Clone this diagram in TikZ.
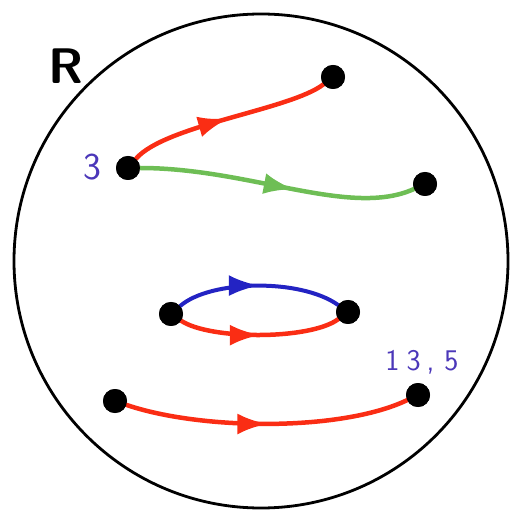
\documentclass[tikz,border=0pt]{standalone}
\usepackage{fontspec}
\usetikzlibrary{arrows.meta,decorations.markings}
\definecolor{cred}{RGB}{250,45,20}
\definecolor{cgreen}{RGB}{110,190,85}
\definecolor{cblue}{RGB}{35,35,195}
\definecolor{clab}{RGB}{75,55,185}
\tikzset{
  dot/.style={circle,fill=black,inner sep=0pt,minimum size=24pt},
  curve/.style={line width=4.5pt,line cap=round,postaction={decorate},
    decoration={markings,mark=at position #1 with {\arrow{Latex[length=30pt,width=21pt]}}}},
  curve/.default=0.5,
  lab/.style={text=clab,font=\sffamily\fontsize{38}{38}\selectfont}
}
\begin{document}
\begin{tikzpicture}[x=1pt,y=-1pt]
\useasboundingbox (0,0) rectangle (511,510);
\node[draw,circle,line width=2.8pt,minimum size=494pt,inner sep=0pt] (R) at (261,261) {};
\node[font=\sffamily\bfseries\fontsize{50}{50}\selectfont] (Rl) at (66,66) {R};
\node[dot] (a) at (128,168) {};
\node[dot] (b) at (333,77) {};
\node[dot] (c) at (425,184) {};
\node[dot] (d) at (171,314) {};
\node[dot] (e) at (348,312) {};
\node[dot] (f) at (115,401) {};
\node[dot] (g) at (418,395) {};
\node[lab] (l3) at (92,167) {3};
\node[lab,font=\sffamily\fontsize{30}{30}\selectfont] (l13) at (422,362) {1\kern7pt3\kern6pt,\kern10pt5};
\draw[cred,curve] (a) .. controls (165,125) and (290,110) .. (b);
\draw[cgreen,curve=0.56] (a) .. controls (250,168) and (350,218) .. (c);
\draw[cblue,curve=0.5,line width=4pt] (d) .. controls (210,280) and (300,278) .. (e);
\draw[cred,curve] (d) .. controls (210,340) and (310,340) .. (e);
\draw[cred,curve] (f) .. controls (200,430) and (340,432) .. (g);
\node[dot] at (a) {};
\node[dot] at (b) {};
\node[dot] at (c) {};
\node[dot] at (d) {};
\node[dot] at (e) {};
\node[dot] at (f) {};
\node[dot] at (g) {};
\end{tikzpicture}
\end{document}
